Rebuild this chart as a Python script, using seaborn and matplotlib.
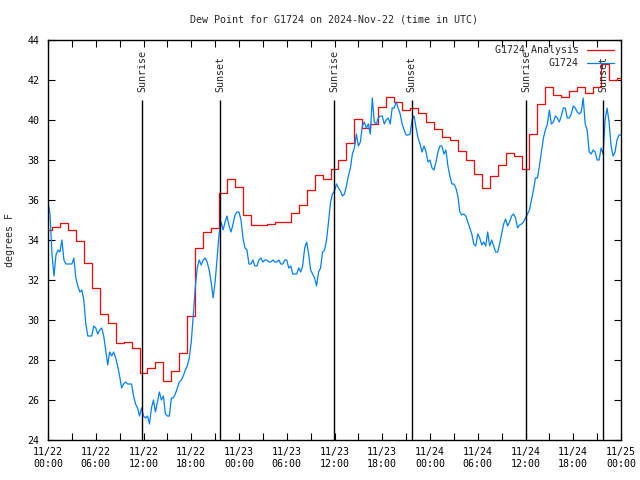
import seaborn as sns
import matplotlib.pyplot as plt
import matplotlib.dates as mdates
import pandas as pd
import numpy as np

# station / time window
station = "G1724"
start = pd.Timestamp("2024-11-22 00:00")

# hourly analysis dew point (deg F), hours 0..72
analysis_dewpt = [
    34.5, 34.67, 34.83, 34.5, 33.95, 32.83, 31.58, 30.3, 29.83, 28.83, 28.88, 28.58,
    27.33, 27.6, 27.9, 26.95, 27.45, 28.37, 30.2, 33.6, 34.4, 34.62, 36.37, 37.03,
    36.63, 35.25, 34.75, 34.75, 34.8, 34.9, 34.9, 35.37, 35.75, 36.5, 37.25, 37.05,
    37.53, 38.0, 38.87, 40.05, 39.58, 39.8, 40.67, 41.13, 40.9, 40.5, 40.58, 40.33,
    39.92, 39.53, 39.13, 39.0, 38.45, 38.0, 37.28, 36.62, 37.2, 37.75, 38.37, 38.2,
    37.55, 39.28, 40.78, 41.63, 41.25, 41.17, 41.45, 41.63, 41.35, 41.63, 42.78, 42.0,
    42.12,
]

# observed dew point (deg F), every 15 minutes, hours 0..72
obs_dewpt = [
    35.9, 35.3, 33.3, 32.2, 33.25, 33.5, 33.4, 34.0, 33.0, 32.8, 32.8, 32.8,
    32.8, 33.1, 32.1, 31.7, 31.4, 31.5, 31.0, 29.8, 29.2, 29.2, 29.2, 29.7,
    29.6, 29.3, 29.5, 29.6, 29.2, 28.5, 27.75, 28.4, 28.2, 28.4, 28.1, 27.7,
    27.2, 26.6, 26.8, 26.9, 26.8, 26.8, 26.8, 26.2, 25.8, 25.6, 25.2, 25.6,
    25.2, 25.1, 25.2, 24.8, 25.6, 26.0, 25.4, 25.9, 26.4, 26.0, 26.2, 25.3,
    25.2, 25.2, 26.1, 26.1, 26.3, 26.6, 26.9, 27.0, 27.2, 27.5, 27.7, 28.1,
    28.9, 30.2, 31.6, 32.6, 33.0, 32.75, 33.0, 33.1, 32.9, 32.5, 31.9, 31.1,
    31.9, 33.1, 34.3, 34.9, 34.5, 34.9, 35.2, 34.7, 34.4, 34.8, 35.25, 35.4,
    35.4, 35.0, 34.1, 33.6, 33.5, 32.8, 32.8, 33.0, 32.7, 32.7, 33.0, 33.1,
    32.9, 33.0, 33.0, 32.9, 32.9, 33.0, 32.9, 32.9, 33.0, 32.8, 32.8, 33.0,
    33.0, 32.6, 32.7, 32.3, 32.3, 32.3, 32.6, 32.4, 32.7, 33.6, 33.9, 33.3,
    32.5, 32.3, 32.1, 31.7, 32.4, 32.6, 33.4, 33.5, 34.0, 34.9, 35.9, 36.3,
    36.45, 36.8, 36.6, 36.45, 36.2, 36.3, 36.7, 37.2, 37.6, 38.3, 38.6, 39.3,
    38.7, 38.9, 39.7, 39.9, 39.6, 39.8, 39.3, 41.1, 39.9, 39.8, 40.1, 40.2,
    40.2, 39.8, 40.0, 40.1, 39.8, 40.6, 40.6, 40.9, 40.6, 40.3, 39.8, 39.5,
    39.25, 39.25, 39.3, 40.0, 40.2, 39.6, 39.1, 38.8, 38.4, 38.7, 38.4, 37.9,
    38.0, 37.6, 37.5, 37.9, 38.4, 38.7, 38.7, 38.3, 38.5, 37.7, 37.2, 36.8,
    36.8, 36.6, 36.2, 35.4, 35.25, 35.3, 35.2, 34.9, 34.6, 34.3, 33.8, 33.7,
    34.3, 34.1, 33.75, 33.9, 33.7, 34.4, 33.7, 34.0, 33.7, 33.4, 33.4, 33.8,
    34.3, 34.8, 35.05, 34.7, 34.9, 35.2, 35.3, 35.1, 34.6, 34.75, 34.8, 34.9,
    35.1, 35.3, 35.5, 36.0, 36.5, 37.1, 37.1, 37.7, 38.4, 39.1, 39.5, 39.8,
    40.5, 39.8, 39.9, 40.2, 40.1, 39.9, 40.2, 40.6, 40.6, 40.1, 40.1, 40.3,
    40.7, 40.6, 40.4, 40.3, 40.4, 41.1, 39.8, 39.5, 38.4, 38.3, 38.5, 38.4,
    38.0, 38.0, 38.6, 38.3, 40.0, 40.6, 39.9, 38.7, 38.2, 38.4, 39.0, 39.25,
    39.25,
]

# sun events, hours after start
sun_hours = [11.85, 21.65, 35.95, 45.7, 60.1, 69.75]
sun_labels = ["Sunrise", "Sunset", "Sunrise", "Sunset", "Sunrise", "Sunset"]

ana = pd.DataFrame({
    "time": start + pd.to_timedelta(np.arange(len(analysis_dewpt)), unit="h"),
    "dewpt": analysis_dewpt,
})
obs = pd.DataFrame({
    "time": start + pd.to_timedelta(np.arange(len(obs_dewpt)) * 15, unit="min"),
    "dewpt": obs_dewpt,
})
sun_times = start + pd.to_timedelta(sun_hours, unit="h")

sns.set_style("ticks")
plt.rcParams["font.family"] = ["DejaVu Sans Mono"]
plt.rcParams["font.size"] = 7.2

fig = plt.figure(figsize=(6.4, 4.8), dpi=100)
ax = fig.add_axes([48 / 640, 40 / 480, 573 / 640, 400 / 480])

sns.lineplot(data=ana, x="time", y="dewpt", ax=ax, color="#ff0000", lw=0.9,
             drawstyle="steps-mid", estimator=None, label=f"{station} Analysis")
sns.lineplot(data=obs, x="time", y="dewpt", ax=ax, color="#0080ff", lw=0.9,
             estimator=None, label=station)

# sunrise / sunset markers
ax.vlines(sun_times, 24, 41, color="black", lw=1)
for t, lab in zip(sun_times, sun_labels):
    ax.text(t, 41.4, lab, rotation=90, ha="center", va="bottom", fontsize=7.2)

ax.set_xlim(start, start + pd.Timedelta(hours=72))
ax.set_ylim(24, 44)
ax.set_yticks(np.arange(24, 45, 2))
ax.xaxis.set_major_locator(mdates.HourLocator(byhour=range(0, 24, 6)))
ax.xaxis.set_minor_locator(mdates.HourLocator(byhour=range(0, 24, 3)))
ax.xaxis.set_major_formatter(mdates.DateFormatter("%m/%d\n%H:%M"))
ax.tick_params(which="both", direction="in", top=True, right=True,
               length=5, width=0.8, colors="black", labelsize=7.2)
ax.tick_params(axis="y", pad=6)
ax.tick_params(axis="x", pad=5)
for s in ax.spines.values():
    s.set_linewidth(1)
    s.set_color("black")

ax.set_xlabel("")
ax.set_ylabel("degrees F", fontsize=7.2, labelpad=9)

ax.legend(loc="upper right", frameon=False, markerfirst=False, fontsize=7.2,
          handlelength=2.7, borderaxespad=0.15, labelspacing=0.3,
          bbox_to_anchor=(0.997, 1.0))

fig.text(334 / 640, 1 - 19 / 480, f"Dew Point for {station} on 2024-Nov-22 (time in UTC)",
         ha="center", va="center", fontsize=7.2)

fig.savefig("out.png", dpi=100)
